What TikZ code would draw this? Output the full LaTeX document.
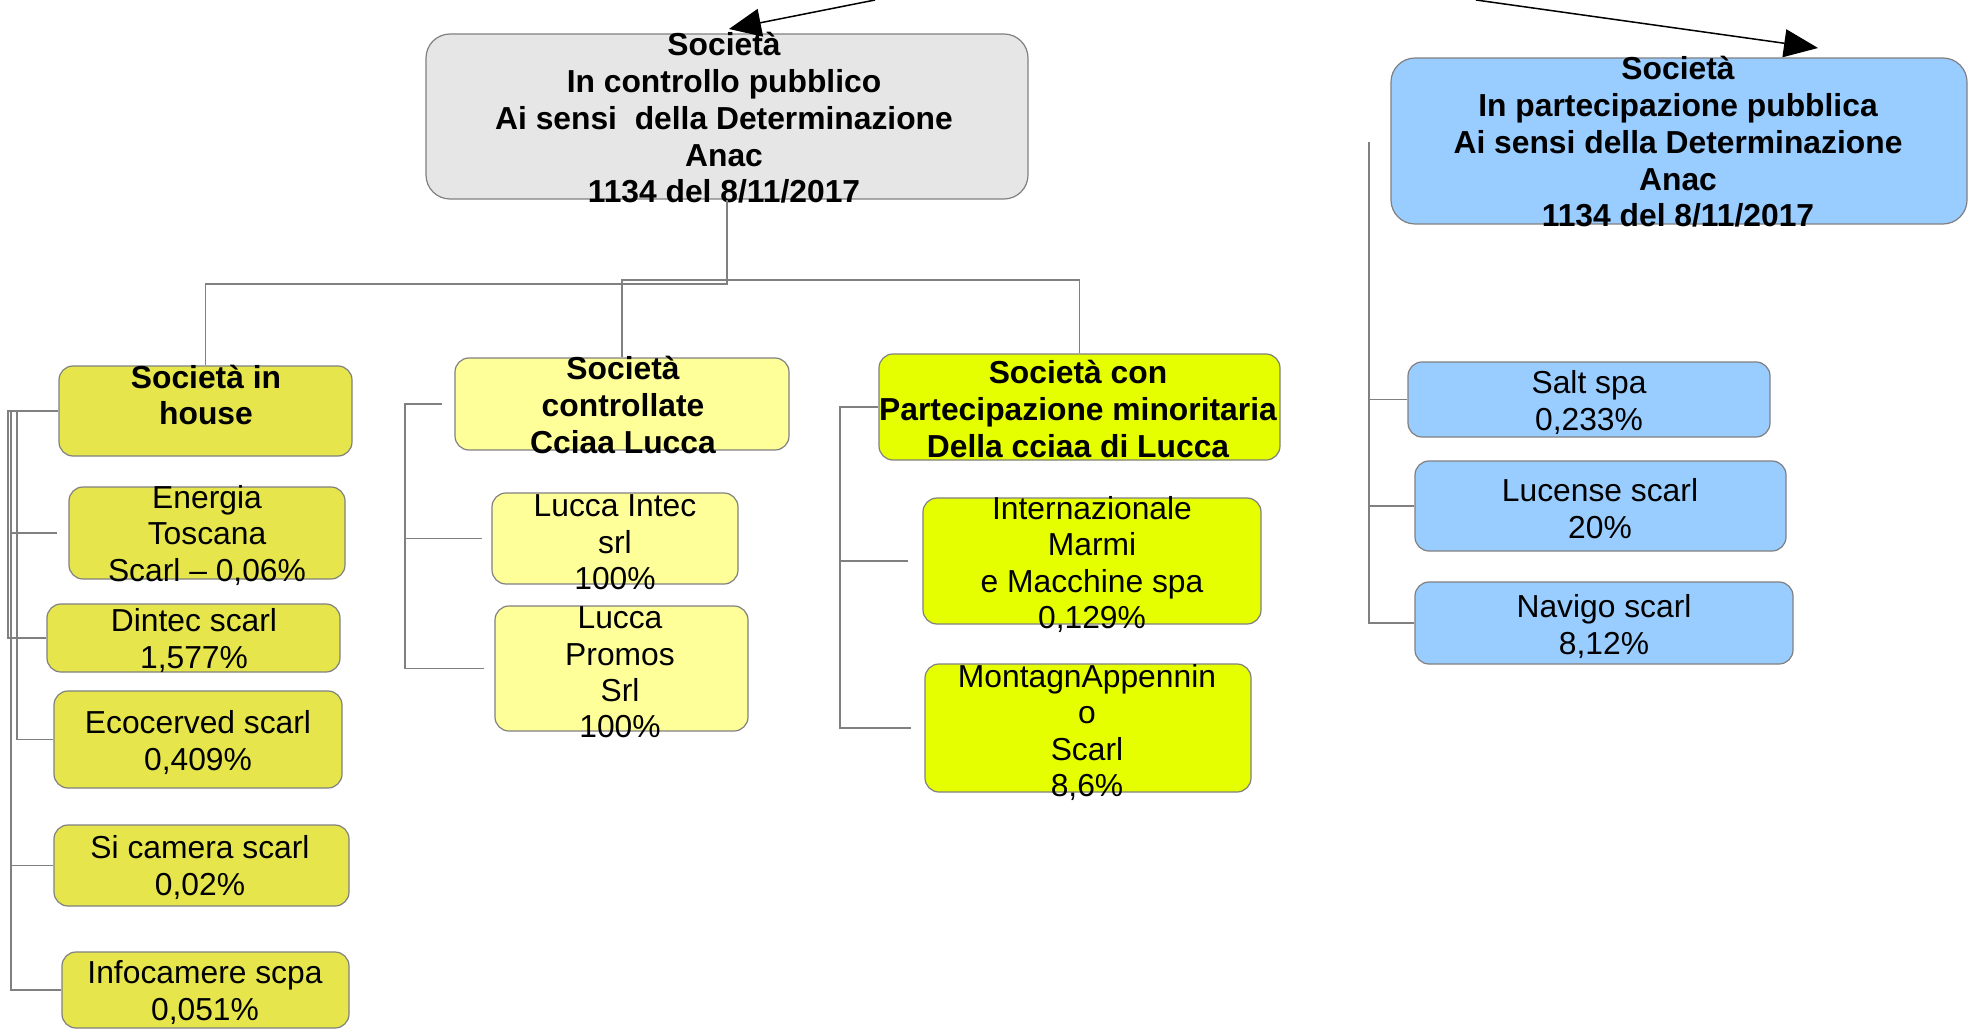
\documentclass[tikz,border=0pt]{standalone}
\usepackage{fontspec}
\setmainfont{Liberation Sans}
\usetikzlibrary{arrows.meta}

\definecolor{ggrey}{RGB}{230,230,230}
\definecolor{gblue}{RGB}{153,204,255}
\definecolor{ghouse}{RGB}{230,230,76}
\definecolor{gctrl}{RGB}{255,255,153}
\definecolor{gmin}{RGB}{230,255,0}
\definecolor{boxline}{RGB}{128,128,128}
\definecolor{connline}{RGB}{128,128,128}

\tikzset{
  box/.style={draw=boxline, line width=1.2pt, rounded corners=14pt},
  txt/.style={align=center, inner sep=0pt, yshift=-2.5pt, font=\fontsize{31.8}{36.4}\selectfont},
  btxt/.style={align=center, inner sep=0pt, font=\fontsize{31.8}{36.8}\selectfont\bfseries},
  conn/.style={draw=connline, line width=1.5pt},
}

\begin{document}
\begin{tikzpicture}[x=1pt, y=-1pt]

        \useasboundingbox (0,0) rectangle (1977,1032);

        % upper boxes
        \node [box, fill=ggrey, rounded corners=24pt, minimum width=602pt, minimum height=165pt] (root) at (727,116.5) {};
        \node [btxt] (rootT) at (724,118) {Società\\In controllo pubblico\\Ai sensi \ della Determinazione\\Anac\\1134 del 8/11/2017};
        \node [box, fill=gblue, rounded corners=24pt, minimum width=576pt, minimum height=166pt] (pub) at (1679,141) {};
        \node [btxt] (pubT) at (1678,142) {Società\\In partecipazione pubblica\\Ai sensi della Determinazione\\Anac\\1134 del 8/11/2017};

        \coordinate (srcL) at (875,0);
        \coordinate (srcR) at (1476,0);
        \coordinate (tipL) at (729,29);
        \coordinate (tipR) at (1818,48);
        \draw[line width=1.5pt, -{Triangle[length=32pt, width=28pt]}] (srcL) -- (tipL);
        \draw[line width=1.5pt, -{Triangle[length=34pt, width=28pt]}] (srcR) -- (tipR);

        % in house
        \node [box, fill=ghouse, minimum width=293pt, minimum height=90pt] (inh) at (205.5,411) {};
        \node [btxt] (inhT) at (206,395) {Società in\\house};
        \node [box, fill=ghouse, minimum width=276pt, minimum height=92pt] (ene) at (207,533) {};
        \node [txt] (eneT) at (207,533) {Energia\\Toscana\\Scarl -- 0,06\%};
        \node [box, fill=ghouse, minimum width=293pt, minimum height=68pt] (din) at (193.5,638) {};
        \node [txt] (dinT) at (194,638) {Dintec scarl\\1,577\%};
        \node [box, fill=ghouse, minimum width=288pt, minimum height=97pt] (eco) at (198,739.5) {};
        \node [txt] (ecoT) at (198,740) {Ecocerved scarl\\0,409\%};
        \node [box, fill=ghouse, minimum width=295pt, minimum height=81pt] (sic) at (201.5,865.5) {};
        \node [txt] (sicT) at (200,865) {Si camera scarl\\0,02\%};
        \node [box, fill=ghouse, minimum width=287pt, minimum height=76pt] (inf) at (205.5,990) {};
        \node [txt] (infT) at (205,990) {Infocamere scpa\\0,051\%};

        % controllate
        \node [box, fill=gctrl, minimum width=334pt, minimum height=92pt] (ctl) at (622,404) {};
        \node [btxt] (ctlT) at (623,405) {Società\\controllate\\Cciaa Lucca};
        \node [box, fill=gctrl, minimum width=246pt, minimum height=91pt] (lin) at (615,538.5) {};
        \node [txt] (linT) at (615,540) {Lucca Intec\\srl\\100\%};
        \node [box, fill=gctrl, minimum width=253pt, minimum height=125pt] (lpr) at (621.5,668.5) {};
        \node [txt] (lprT) at (620,670) {Lucca\\Promos\\Srl\\100\%};

        % partecipazione minoritaria
        \node [box, fill=gmin, minimum width=401pt, minimum height=106pt] (min) at (1079.5,407) {};
        \node [btxt] (minT) at (1078,409) {Società con\\Partecipazione minoritaria\\Della cciaa di Lucca};
        \node [box, fill=gmin, minimum width=338pt, minimum height=126pt] (imm) at (1092,561) {};
        \node [txt] (immT) at (1092,562) {Internazionale\\Marmi\\e Macchine spa\\0,129\%};
        \node [box, fill=gmin, minimum width=326pt, minimum height=128pt] (mon) at (1088,728) {};
        \node [txt] (monT) at (1087,730) {MontagnAppennin\\o\\Scarl\\8,6\%};

        % partecipazione pubblica
        \node [box, fill=gblue, minimum width=362pt, minimum height=75pt] (sal) at (1589,399.5) {};
        \node [txt] (salT) at (1589,400) {Salt spa\\0,233\%};
        \node [box, fill=gblue, minimum width=371pt, minimum height=90pt] (luc) at (1600.5,506) {};
        \node [txt] (lucT) at (1600,506) {Lucense scarl\\20\%};
        \node [box, fill=gblue, minimum width=378pt, minimum height=82pt] (nav) at (1604,623) {};
        \node [txt] (navT) at (1604,624) {Navigo scarl\\8,12\%};

        % connectors
        \draw[conn] (root.south) -- (727,284) -| (inh.north);
        \draw[conn] (ctl.north) -- (ctl.north |- 0,280) -| (min.north);

        \coordinate (hbusA) at (8,411);
        \coordinate (hbusB) at (11,411);
        \coordinate (hbusC) at (17,411);
        \draw[conn] (inh.west) -- (hbusA) |- (din.west);
        \draw[conn] (inh.west) -- (hbusB) |- (inf.west);
        \draw[conn] (inh.west) -- (hbusC) |- (eco.west);
        \draw[conn] (hbusB |- ene.west) -- ([xshift=-11pt]ene.west);
        \draw[conn] (hbusB |- sic.west) -- (sic.west);

        \coordinate (cbus) at (405,404);
        \draw[conn] ([xshift=-12pt]ctl.west) -- (cbus) |- ([xshift=-10pt]lpr.west);
        \draw[conn] (cbus |- lin.west) -- ([xshift=-9pt]lin.west);

        \coordinate (mbus) at (840,407);
        \draw[conn] (min.west) -- (mbus) |- ([xshift=-13pt]mon.west);
        \draw[conn] (mbus |- imm.west) -- ([xshift=-14pt]imm.west);

        \coordinate (pbus) at (1369,142);
        \draw[conn] (pbus) |- (nav.west);
        \draw[conn] (pbus |- sal.west) -- (sal.west);
        \draw[conn] (pbus |- luc.west) -- (luc.west);

      \end{tikzpicture}
\end{document}
